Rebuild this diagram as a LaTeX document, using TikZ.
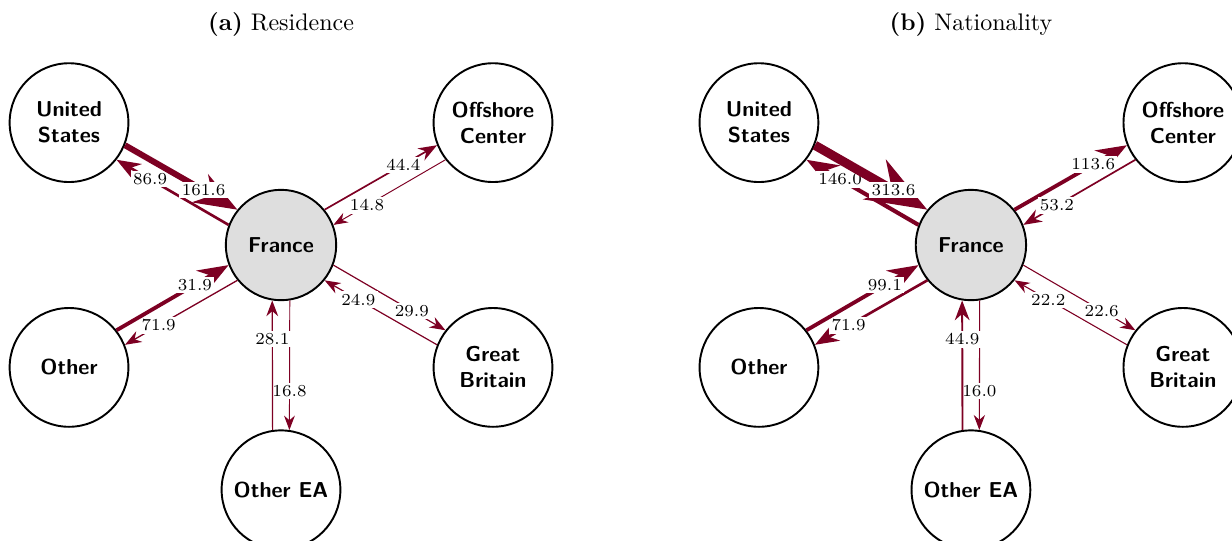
\documentclass[tikz,border=0pt]{standalone}
\usepackage{tikz}
\usetikzlibrary{arrows.meta, calc}

\definecolor{flowred}{RGB}{125,0,35}

\begin{document}
\begin{tikzpicture}
        [
          country/.style={circle, draw, thick, minimum size=49.5pt, inner sep=0pt, align=center,
                          font=\fontsize{9}{10.8}\selectfont\sffamily\bfseries},
          home/.style={country, fill=black!13, minimum size=46pt},
          flow/.style={draw=flowred, -{Stealth[scale=1.25]}},
          amount/.style={fill=white, inner sep=1pt, font=\scriptsize, pos=0.7},
          caption/.style={anchor=center}
        ]
        \useasboundingbox (-117.1pt,-123.3pt) rectangle (396.3pt,102.1pt);
        % (a) residence
        \node [caption] (cap-a) at (0,92pt) {\textbf{(a)} Residence};
        \node [home] (fr-a) at (0,0) {France};
        \node [country] (us-a) at ([shift={(150:102pt)}]fr-a) {United\\States};
        \node [country] (oc-a) at ([shift={(30:102pt)}]fr-a) {Offshore\\Center};
        \node [country] (ot-a) at ([shift={(210:102pt)}]fr-a) {Other};
        \node [country] (gb-a) at ([shift={(330:102pt)}]fr-a) {Great\\Britain};
        \node [country] (ea-a) at ([shift={(270:102pt)}]fr-a) {Other EA};
        % (b) nationality
        \node [caption] (cap-b) at (287.5pt,92pt) {\textbf{(b)} Nationality};
        \node [home] (fr-b) at (287.5pt,0) {France};
        \node [country] (us-b) at ([shift={(150:102pt)}]fr-b) {United\\States};
        \node [country] (oc-b) at ([shift={(30:102pt)}]fr-b) {Offshore\\Center};
        \node [country] (ot-b) at ([shift={(210:102pt)}]fr-b) {Other};
        \node [country] (gb-b) at ([shift={(330:102pt)}]fr-b) {Great\\Britain};
        \node [country] (ea-b) at ([shift={(270:102pt)}]fr-b) {Other EA};
        % flows, out of France / into France
        \foreach \p/\s/\a/\wo/\lo/\wi/\li in {
            a/us/150/1.1pt/86.9/2.5pt/161.6, a/oc/30/0.7pt/44.4/0.4pt/14.8,
            a/ot/210/0.55pt/71.9/1.6pt/31.9, a/gb/330/0.5pt/29.9/0.5pt/24.9,
            a/ea/270/0.4pt/16.8/0.5pt/28.1,
            b/us/150/1.7pt/146.0/3.8pt/313.6, b/oc/30/1.6pt/113.6/0.7pt/53.2,
            b/ot/210/1.1pt/71.9/1.6pt/99.1, b/gb/330/0.45pt/22.6/0.45pt/22.2,
            b/ea/270/0.45pt/16.0/0.8pt/44.9} {
            \pgfmathtruncatemacro{\fout}{\a+9}
            \pgfmathtruncatemacro{\fin}{\a-9}
            \pgfmathtruncatemacro{\sout}{\a+172}
            \pgfmathtruncatemacro{\sin}{\a+188}
            \draw [flow, line width=\wo] (fr-\p.\fout) -- node [amount] {\lo} (\s-\p.\sout);
            \draw [flow, line width=\wi] (\s-\p.\sin) -- node [amount] {\li} (fr-\p.\fin);
        }
\end{tikzpicture}
\end{document}
